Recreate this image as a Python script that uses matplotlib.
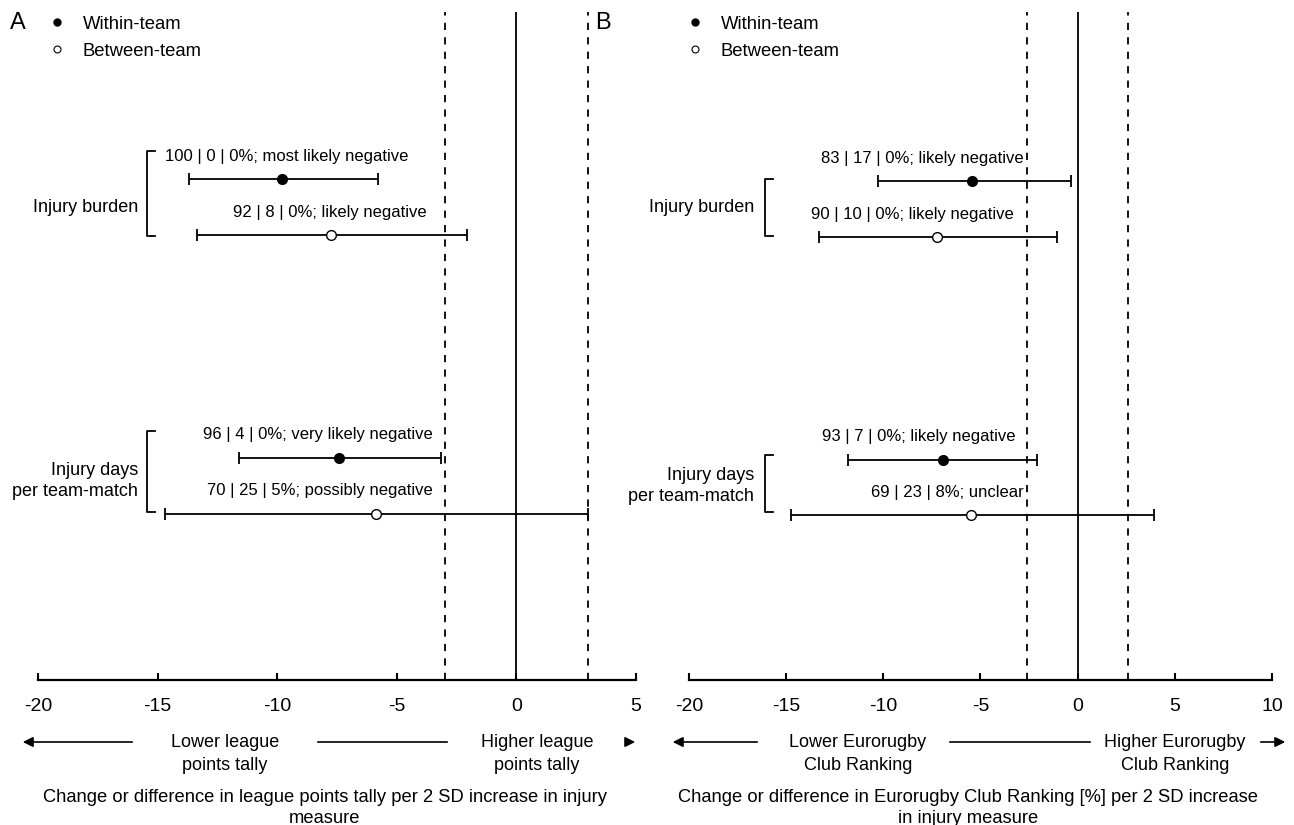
import matplotlib
matplotlib.use('Agg')
import matplotlib.pyplot as plt
from matplotlib.lines import Line2D

plt.rcParams['font.family'] = ['Liberation Sans', 'DejaVu Sans']

W, H = 1294, 825

# ---- data ----
a_point = [-9.8, -7.75, -7.4, -5.85]
a_low = [-13.7, -13.35, -11.6, -14.7]
a_high = [-5.8, -2.05, -3.15, 3.0]
a_text = ['100 | 0 | 0%; most likely negative', '92 | 8 | 0%; likely negative',
          '96 | 4 | 0%; very likely negative', '70 | 25 | 5%; possibly negative']

b_point = [-5.45, -7.25, -6.95, -5.5]
b_low = [-10.25, -13.3, -11.8, -14.75]
b_high = [-0.35, -1.05, -2.1, 3.95]
b_text = ['83 | 17 | 0%; likely negative', '90 | 10 | 0%; likely negative',
          '93 | 7 | 0%; likely negative', '69 | 23 | 8%; unclear']

kinds = ['within', 'between', 'within', 'between']
groups = ['Injury burden', 'Injury days\nper team-match']


def fx(p):
    return p / W


def fy(p):
    return 1 - p / H


fig = plt.figure(figsize=(W / 100, H / 100), dpi=100)


def panel(left_px, right_px, xlim, ticks, thr, pts, lo, hi, texts, rows, text_x, letter,
          letter_x, leg_x, group_right, group_y, bracket_x, bracket_rows,
          low_lbl, high_lbl, arrows, bottom_lbl, bottom_x):
    ax = fig.add_axes([fx(left_px), fy(680), fx(right_px - left_px), (680 - 12) / H])
    ax.set_xlim(*xlim)
    ax.set_ylim(680, 12)
    for s in ['top', 'right', 'left']:
        ax.spines[s].set_visible(False)
    ax.spines['bottom'].set_linewidth(1.6)
    ax.set_yticks([])
    ax.set_xticks(ticks)
    ax.set_xticklabels([str(t) for t in ticks])
    ax.tick_params(axis='x', direction='in', length=5, width=1.5, pad=13, labelsize=14)
    ax.axvline(0, color='black', lw=1.3)
    ax.axvline(-thr, color='black', lw=1.3, ls=(0, (4, 4)))
    ax.axvline(thr, color='black', lw=1.3, ls=(0, (4, 4)))

    for i in range(4):
        filled = kinds[i] == 'within'
        ax.errorbar(pts[i], rows[i], xerr=[[pts[i] - lo[i]], [hi[i] - pts[i]]], fmt='o',
                    color='black', mfc='black' if filled else 'white', mec='black',
                    ms=7, elinewidth=1.3, capsize=4, capthick=1.3, zorder=3)
        ax.text(text_x[i], rows[i] - 23, texts[i], ha='center', va='center', fontsize=12)

    # brackets and group labels
    ppu = (right_px - left_px) / (xlim[1] - xlim[0])
    zero_px = left_px + ppu * (0 - xlim[0])
    for g, gy, (top, bot) in zip(groups, group_y, bracket_rows):
        x0 = (bracket_x - zero_px) / ppu
        x1 = x0 + 8 / ppu
        ax.plot([x1, x0, x0, x1], [top, top, bot, bot], color='black', lw=1.3, clip_on=False)
        fig.text(fx(group_right), fy(gy), g, ha='right', va='center',
                 fontsize=13, linespacing=1.3)

    fig.text(fx(letter_x), fy(23), letter, fontsize=17, va='center', ha='left')
    handles = [Line2D([], [], marker='o', ls='none', color='black', mfc='black', ms=5),
               Line2D([], [], marker='o', ls='none', color='black', mfc='white', ms=5, mew=0.8)]
    fig.legend(handles, ['Within-team', 'Between-team'], loc='upper left',
               bbox_to_anchor=(fx(leg_x), fy(12)), frameon=False, fontsize=13.3,
               handletextpad=0.9, labelspacing=0.55, handlelength=1.0, borderaxespad=0,
               borderpad=0.2)

    fig.text(fx(low_lbl[0]), fy(754), low_lbl[1], ha='center', va='center', fontsize=13,
             linespacing=1.4)
    fig.text(fx(high_lbl[0]), fy(754), high_lbl[1], ha='center', va='center', fontsize=13,
             linespacing=1.4)
    for (x0, x1, head) in arrows:
        if head:
            fig.add_artist(matplotlib.patches.FancyArrowPatch(
                (fx(x0), fy(742)), (fx(x1), fy(742)), transform=fig.transFigure,
                arrowstyle='-|>', mutation_scale=15, color='black', lw=1.2))
        else:
            fig.add_artist(Line2D([fx(x0), fx(x1)], [fy(742), fy(742)], color='black', lw=1.2,
                                  transform=fig.transFigure))
    fig.text(fx(bottom_x), fy(808), bottom_lbl, ha='center', va='center', fontsize=13.2,
             linespacing=1.25)
    return ax


panel(38, 636, (-20, 5), [-20, -15, -10, -5, 0, 5], 3.0, a_point, a_low, a_high, a_text,
      [179, 235, 458, 514], [-9.6, -7.8, -8.3, -8.2], 'A', 10, 44, 138, [207, 481], 147,
      [(151, 236), (431, 512)],
      (225, 'Lower league\npoints tally'), (537, 'Higher league\npoints tally'),
      [(135, 20, True), (318, 447, False), (625, 638, True)],
      'Change or difference in league points tally per 2 SD increase in injury\nmeasure', 325)

panel(689, 1272, (-20, 10), [-20, -15, -10, -5, 0, 5, 10], 2.6, b_point, b_low, b_high, b_text,
      [181, 237, 460, 515], [-8.0, -8.5, -8.2, -6.7], 'B', 595, 682, 754, [207, 486], 765,
      [(179, 236), (455, 512)],
      (858, 'Lower Eurorugby\nClub Ranking'), (1175, 'Higher Eurorugby\nClub Ranking'),
      [(760, 670, True), (950, 1090, False), (1258, 1288, True)],
      'Change or difference in Eurorugby Club Ranking [%] per 2 SD increase\nin injury measure',
      968)

fig.savefig('out.png', dpi=100)
